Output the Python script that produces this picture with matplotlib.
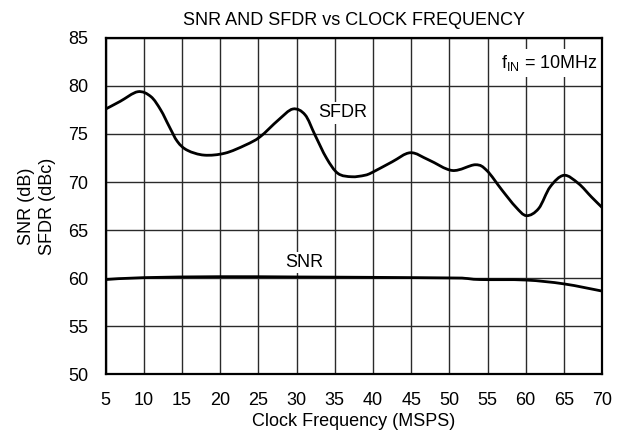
import matplotlib
matplotlib.use("Agg")
import matplotlib.pyplot as plt
from matplotlib.path import Path
from matplotlib.patches import PathPatch

plt.rcParams['font.family'] = ['Liberation Sans', 'DejaVu Sans']
plt.rcParams['mathtext.fontset'] = 'custom'
plt.rcParams['mathtext.rm'] = 'Liberation Sans'
plt.rcParams['mathtext.it'] = 'Liberation Sans'

title = "SNR AND SFDR vs CLOCK FREQUENCY"
xlabel = "Clock Frequency (MSPS)"
ylabel = "SNR (dB)\nSFDR (dBc)"

sfdr_x = [5.0, 6.9, 9.2, 10.9, 12.2, 13.3, 14.4, 15.7, 17.9, 20.6, 23.3, 25.2, 27.6,
          29.5, 31.1, 32.4, 33.9, 35.4, 37.2, 38.9, 39.9, 42.5, 44.9, 47.3, 50.4,
          53.4, 54.9, 56.9, 58.7, 60.1, 61.7, 63.2, 65.0, 66.9, 68.6, 70.0]
sfdr_y = [77.6, 78.4, 79.4, 78.9, 77.5, 75.8, 74.2, 73.3, 72.8, 73.0, 73.85, 74.7, 76.45,
          77.6, 77.0, 74.9, 72.5, 70.9, 70.55, 70.7, 71.0, 72.1, 73.05, 72.3, 71.2,
          71.8, 71.2, 69.15, 67.4, 66.5, 67.25, 69.5, 70.7, 69.85, 68.45, 67.35]

snr_x = [5, 10, 20, 30, 40, 50, 52, 54, 60, 65, 70]
snr_y = [59.85, 60.05, 60.15, 60.12, 60.08, 60.02, 59.98, 59.85, 59.8, 59.4, 58.65]

xticks = list(range(5, 71, 5))
yticks = list(range(50, 86, 5))

FS = 13


def smooth_path(xs, ys):
    # Catmull-Rom spline through the points, drawn as cubic Bezier segments
    verts = [(xs[0], ys[0])]
    codes = [Path.MOVETO]
    n = len(xs)
    for i in range(n - 1):
        p0 = (xs[i - 1], ys[i - 1]) if i > 0 else (xs[i], ys[i])
        p1 = (xs[i], ys[i])
        p2 = (xs[i + 1], ys[i + 1])
        p3 = (xs[i + 2], ys[i + 2]) if i + 2 < n else p2
        c1 = (p1[0] + (p2[0] - p0[0]) / 6.0, p1[1] + (p2[1] - p0[1]) / 6.0)
        c2 = (p2[0] - (p3[0] - p1[0]) / 6.0, p2[1] - (p3[1] - p1[1]) / 6.0)
        verts += [c1, c2, p2]
        codes += [Path.CURVE4] * 3
    return Path(verts, codes)


fig = plt.figure(figsize=(6.22, 4.46), dpi=100)
ax = fig.add_axes([0.170, 0.161, 0.798, 0.754])

for xs, ys in ((sfdr_x, sfdr_y), (snr_x, snr_y)):
    patch = PathPatch(smooth_path(xs, ys), facecolor='none', edgecolor='black',
                      lw=2.0, zorder=3, transform=ax.transData)
    ax.add_patch(patch)

ax.set_xlim(5, 70)
ax.set_ylim(50, 85)
ax.set_xticks(xticks)
ax.set_yticks(yticks)
ax.grid(True, color='#2a2a2a', lw=1.0, zorder=1)
ax.set_axisbelow(True)
ax.tick_params(axis='x', length=0, labelsize=FS, pad=12.5)
ax.tick_params(axis='y', length=0, labelsize=FS, pad=12.5)
for s in ax.spines.values():
    s.set_linewidth(1.6)
    s.set_zorder(4)

ax.set_title(title, fontsize=FS, pad=9)
ax.set_xlabel(xlabel, fontsize=FS, labelpad=3)
ax.set_ylabel(ylabel, fontsize=FS, labelpad=9, linespacing=1.25)

bb = dict(facecolor='white', edgecolor='none', pad=1.5)
ax.text(36.0, 77.2, "SFDR", fontsize=FS, ha='center', va='center', bbox=bb, zorder=2)
ax.text(31.0, 61.6, "SNR", fontsize=FS, ha='center', va='center', bbox=bb, zorder=2)
ax.text(69.4, 82.4, r"f$_{\mathrm{IN}}$ = 10MHz", fontsize=FS, ha='right', va='center',
        bbox=dict(facecolor='white', edgecolor='none', pad=3), zorder=2)

fig.savefig("out.png", dpi=100)
